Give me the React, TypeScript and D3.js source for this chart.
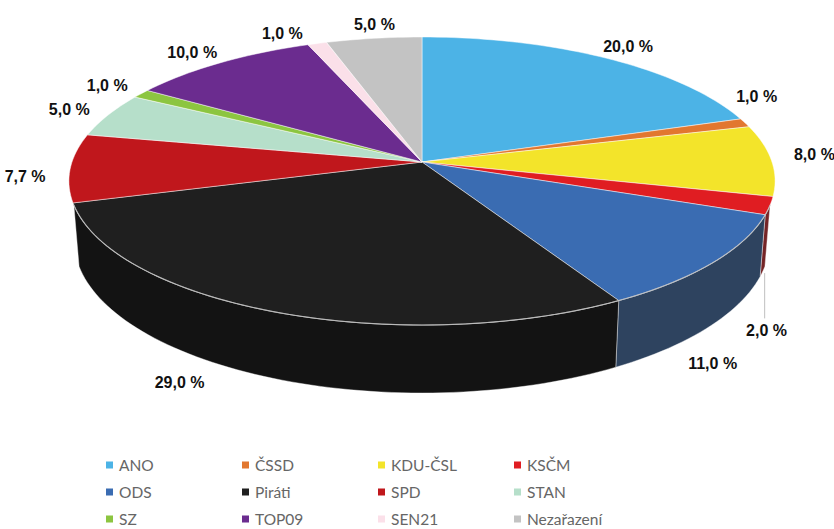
import { useEffect, useRef } from "react";
import * as d3 from "d3";

const parties = ["ANO", "ČSSD", "KDU-ČSL", "KSČM", "ODS", "Piráti", "SPD", "STAN", "SZ", "TOP09", "SEN21", "Nezařazení"];
const shares = [20, 1, 8, 2, 11, 29, 7.7, 5, 1, 10, 1, 5];
const colors = ["#4cb3e6", "#e2772f", "#f3e42a", "#e01d22", "#3a6cb2", "#1f1f1f", "#c0171c", "#b6dfca", "#8cc540", "#6b2c8f", "#fbe0e9", "#c3c3c3"];

// label placement tweaks (degrees along the rim), Excel-style best fit
const labelShiftDeg = [0, -9, -2, 19, 8, 11, 0, 0, 0, -1, -4, 1];

const W = 834;
const H = 529;

export default function App() {
  const svgRef = useRef<SVGSVGElement>(null);

  useEffect(() => {
    document.body.style.margin = "0";
    const svg = d3.select(svgRef.current);
    svg.selectAll("*").remove();

    // perspective ellipse
    const cx = 422, cy = 162, rx = 350, ry = 141.5, k = 0.132, depth = 59, shrink = 0.985;
    const proj = (a: number, r = 1, dz = 0): [number, number] => {
      const u = r * Math.sin(a);
      const v = -r * Math.cos(a);
      const w = 1 / (1 - k * v);
      const sx = dz > 0 ? 1 - (1 - shrink) * (dz / depth) : 1;
      return [cx + rx * u * w * sx, cy + ry * v * w + dz * w];
    };

    const data = parties.map((p, i) => ({ party: p, value: shares[i], color: colors[i], shift: labelShiftDeg[i] }));
    const arcs = d3.pie<typeof data[0]>().sort(null).value((d) => d.value)(data);
    const line = d3.line();

    const sample = (a0: number, a1: number, dz = 0) => {
      const n = Math.max(2, Math.ceil(((a1 - a0) / (Math.PI * 2)) * 240));
      return d3.range(n + 1).map((i) => proj(a0 + ((a1 - a0) * i) / n, 1, dz));
    };

    // side walls: only the part facing the viewer
    const wallFrom = (107 * Math.PI) / 180;
    const wallTo = (253 * Math.PI) / 180;
    const wallG = svg.append("g");
    arcs.forEach((d) => {
      const a0 = Math.max(d.startAngle, wallFrom);
      const a1 = Math.min(d.endAngle, wallTo);
      if (a1 <= a0) return;
      const top = sample(a0, a1);
      const bot = sample(a0, a1, depth).reverse();
      const c = d3.hsl(d.data.color);
      c.s *= 0.68;
      c.l *= 0.6;
      wallG
        .append("path")
        .attr("d", line([...top, ...bot])! + "Z")
        .attr("fill", c.formatHex())
        .attr("stroke", "rgba(255,255,255,0.5)")
        .attr("stroke-width", 0.8)
        .attr("stroke-linejoin", "round");
    });

    // top faces
    const topG = svg.append("g");
    arcs.forEach((d) => {
      const pts = [proj(0, 0), ...sample(d.startAngle, d.endAngle)];
      topG
        .append("path")
        .attr("d", line(pts)! + "Z")
        .attr("fill", d.data.color)
        .attr("stroke", "rgba(255,255,255,0.6)")
        .attr("stroke-width", 0.8)
        .attr("stroke-linejoin", "round");
    });

    // rim highlight on front edge
    svg
      .append("path")
      .attr("d", line(sample(wallFrom, wallTo))!)
      .attr("fill", "none")
      .attr("stroke", "rgba(190,190,190,0.75)")
      .attr("stroke-width", 1.2);

    // value labels
    const fmt = (v: number) => v.toFixed(1).replace(".", ",") + " %";
    const labelPos = (d: (typeof arcs)[0]) => {
      const a = (d.startAngle + d.endAngle) / 2 + (d.data.shift * Math.PI) / 180;
      const v = -Math.cos(a);
      return proj(a, 1.13, depth * Math.max(0, Math.min(1, v * 3)));
    };
    const labG = svg.append("g");
    // leader lines for labels moved away from their slice
    arcs
      .filter((d) => Math.abs(d.data.shift) > 15)
      .forEach((d) => {
        const mid = (d.startAngle + d.endAngle) / 2;
        const [bx, by] = proj(mid, 1, depth);
        const [, ly] = labelPos(d);
        labG
          .append("line")
          .attr("x1", bx)
          .attr("x2", bx)
          .attr("y1", by + 6)
          .attr("y2", ly - 12)
          .attr("stroke", "#bfbfbf")
          .attr("stroke-width", 1);
      });
    labG
      .selectAll("text")
      .data(arcs)
      .join("text")
      .attr("transform", (d) => {
        const [x, y] = labelPos(d);
        return `translate(${x},${y})`;
      })
      .attr("text-anchor", "middle")
      .attr("dominant-baseline", "central")
      .attr("font-family", "'Liberation Sans', Arial, sans-serif")
      .attr("font-weight", "bold")
      .attr("font-size", 16)
      .attr("fill", "#111")
      .text((d) => fmt(d.data.value));

    // legend
    const colX = d3.scalePoint<number>().domain([0, 1, 2, 3]).range([106, 514]);
    const rowY = d3.scalePoint<number>().domain([0, 1, 2]).range([465, 519]);
    const leg = svg
      .append("g")
      .selectAll("g")
      .data(data)
      .join("g")
      .attr("transform", (_d, i) => `translate(${colX(i % 4)},${rowY(Math.floor(i / 4))})`);
    leg
      .append("rect")
      .attr("x", 0)
      .attr("y", -3.5)
      .attr("width", 7)
      .attr("height", 7)
      .attr("fill", (d) => d.color);
    leg
      .append("text")
      .attr("x", 13)
      .attr("y", 0)
      .attr("dominant-baseline", "central")
      .attr("font-family", "Lato, 'Open Sans', sans-serif")
      .attr("font-size", 15.5)
      .attr("fill", "#666")
      .text((d) => d.party);
  }, []);

  return <svg ref={svgRef} width={W} height={H} style={{ display: "block", background: "#fff" }} />;
}
